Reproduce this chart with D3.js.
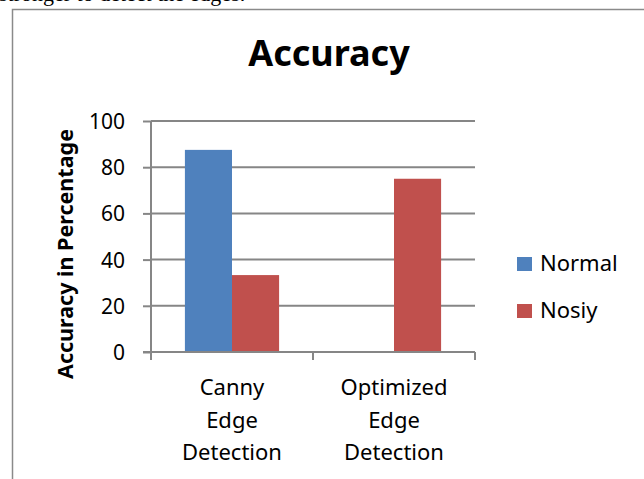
<!DOCTYPE html>
<html><head><meta charset="utf-8">
<script src="https://cdn.jsdelivr.net/npm/d3@7"></script>
<style>html,body{margin:0;padding:0;background:#fff;overflow:hidden}</style>
</head><body>
<svg id="c" width="644" height="479"></svg>
<script>
const categories = ["Canny Edge Detection", "Optimized Edge Detection"];
const categoryLines = [["Canny", "Edge", "Detection"], ["Optimized", "Edge", "Detection"]];
const seriesNames = ["Normal", "Nosiy"];
const normalValues = [87.5, 0];
const noisyValues = [33.3, 75];
const yTicks = [0, 20, 40, 60, 80, 100];
const colors = ["#4F81BD", "#C0504D"];

(function () {
const svg = d3.select("#c");
const font = "'Noto Sans', 'Open Sans', sans-serif";

// cut-off text above the chart
svg.append("text").attr("x", -1).attr("y", 1)
  .attr("font-family", "'Liberation Serif', serif").attr("font-size", 22)
  .attr("fill", "#000").text("stronger to detect the edges.");

// chart border
svg.append("rect").attr("x", 12.5).attr("y", 9.5).attr("width", 660).attr("height", 500)
  .attr("fill", "none").attr("stroke", "#8a8a8a").attr("stroke-width", 1.5);

const pLeft = 151, pRight = 475, pTop = 121, pBottom = 352;
const y = d3.scaleLinear().domain([0, 100]).range([pBottom, pTop]);
const x0 = d3.scaleBand().domain(categories).range([pLeft, pRight]).paddingInner(0).paddingOuter(0);
const x1 = d3.scaleBand().domain(seriesNames).range([0, x0.bandwidth()]).paddingInner(0).paddingOuter(0.72);

// gridlines
svg.append("g").selectAll("line").data(yTicks.filter(d => d > 0)).join("line")
  .attr("x1", pLeft).attr("x2", pRight).attr("y1", d => y(d)).attr("y2", d => y(d))
  .attr("stroke", "#868686").attr("stroke-width", 2);

// y axis
const yAxis = d3.axisLeft(y).tickValues(yTicks).tickSize(8).tickPadding(10);
const gy = svg.append("g").attr("transform", `translate(${pLeft},0)`).call(yAxis);
gy.select(".domain").attr("stroke", "#868686").attr("stroke-width", 2).attr("d", `M0,${pTop}V${pBottom}`);
gy.selectAll(".tick line").attr("stroke", "#868686").attr("stroke-width", 2);
gy.selectAll(".tick text").attr("font-family", font).attr("font-size", 21).attr("fill", "#000")
  .attr("x", -26).attr("dy", "0.36em");

// bars
const data = categories.map((c, i) => ({cat: c, vals: [normalValues[i], noisyValues[i]]}));
const groups = svg.append("g").selectAll("g").data(data).join("g")
  .attr("transform", d => `translate(${x0(d.cat)},0)`);
groups.selectAll("rect").data(d => d.vals.map((v, j) => ({name: seriesNames[j], v, j}))).join("rect")
  .attr("x", d => x1(d.name)).attr("width", x1.bandwidth())
  .attr("y", d => y(d.v)).attr("height", d => pBottom - y(d.v))
  .attr("fill", d => colors[d.j]);

// x axis
const xAxis = d3.axisBottom(x0).tickSize(0).tickFormat("");
const gx = svg.append("g").attr("transform", `translate(0,${pBottom})`).call(xAxis);
gx.select(".domain").attr("stroke", "#868686").attr("stroke-width", 2).attr("d", `M${pLeft - 8},0H${pRight}`);
const bounds = [pLeft].concat(categories.map(c => x0(c) + x0.bandwidth()));
svg.append("g").selectAll("line").data(bounds).join("line")
  .attr("x1", d => d).attr("x2", d => d).attr("y1", pBottom).attr("y2", pBottom + 8)
  .attr("stroke", "#868686").attr("stroke-width", 2);

// category labels
categories.forEach((c, i) => {
  const cx = x0(c) + x0.bandwidth() / 2;
  const t = svg.append("text").attr("text-anchor", "middle").attr("font-family", font)
    .attr("font-size", 22).attr("fill", "#000");
  categoryLines[i].forEach((ln, k) => {
    t.append("tspan").attr("x", cx).attr("y", 395 + k * 32.5).text(ln);
  });
});

// title
svg.append("text").attr("x", 329).attr("y", 66).attr("text-anchor", "middle")
  .attr("font-family", font).attr("font-weight", "bold").attr("font-size", 36)
  .attr("fill", "#000").text("Accuracy");

// y axis title
svg.append("text").attr("transform", "translate(73,254) rotate(-90)").attr("text-anchor", "middle")
  .attr("font-family", font).attr("font-weight", "bold").attr("font-size", 21.5)
  .attr("fill", "#000").text("Accuracy in Percentage");

// legend
const legend = svg.append("g").selectAll("g").data(seriesNames).join("g")
  .attr("transform", (d, i) => `translate(517,${257 + i * 47})`);
legend.append("rect").attr("width", 15).attr("height", 14).attr("fill", (d, i) => colors[i]);
legend.append("text").attr("x", 23).attr("y", 14).attr("font-family", font)
  .attr("font-size", 22).attr("fill", "#000").text(d => d);
})();
</script>
</body></html>
